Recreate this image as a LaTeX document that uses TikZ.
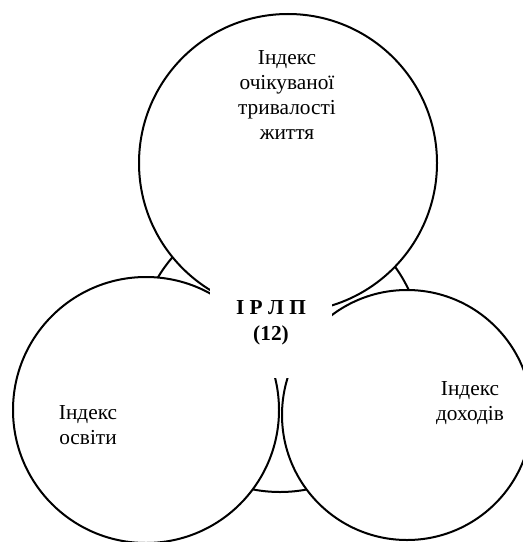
\documentclass[tikz,border=0pt]{standalone}
\usepackage{fontspec}
\setmainfont{Liberation Serif}
\usetikzlibrary{positioning}

\begin{document}
\begin{tikzpicture}[x=0.75pt,y=-0.75pt]
        % Style for the circles: black outline, white fill
        \tikzstyle{ring} = [
            draw=black,
            line width=1.5pt,
            fill=white,
            circle,
            inner sep=0pt
        ]
        % Style for the texts
        \tikzstyle{lbl} = [
            align=center,
            font=\fontsize{16}{18.7}\selectfont
        ]

        \useasboundingbox (0,0) rectangle (523,542);

        % Central circle (lies behind the others)
        \node[ring, minimum size=213pt] (irlp) at (280,350) {};

        % Three circles round it
        \node[ring, minimum size=223.5pt] (life) at (288,163) {};
        \node[ring, minimum size=199.5pt] (edu) at (146,410) {};
        \node[ring, minimum size=187.5pt] (income) at (407,415) {};

        % Texts
        \node[lbl] (lifetext) at (287,95) {Індекс\\очікуваної\\тривалості\\життя};
        \node[lbl] (edutext) at (88,425) {Індекс\\освіти};
        \node[lbl] (incometext) at (470,403) {Індекс\\доходів};

        % Central text on a white patch
        \node[lbl, font=\fontsize{16}{19.5}\selectfont\bfseries, fill=white,
            minimum width=92pt, minimum height=82pt] (irlptext) at (271,323) {І Р Л П\\(12)};

\end{tikzpicture}
\end{document}
